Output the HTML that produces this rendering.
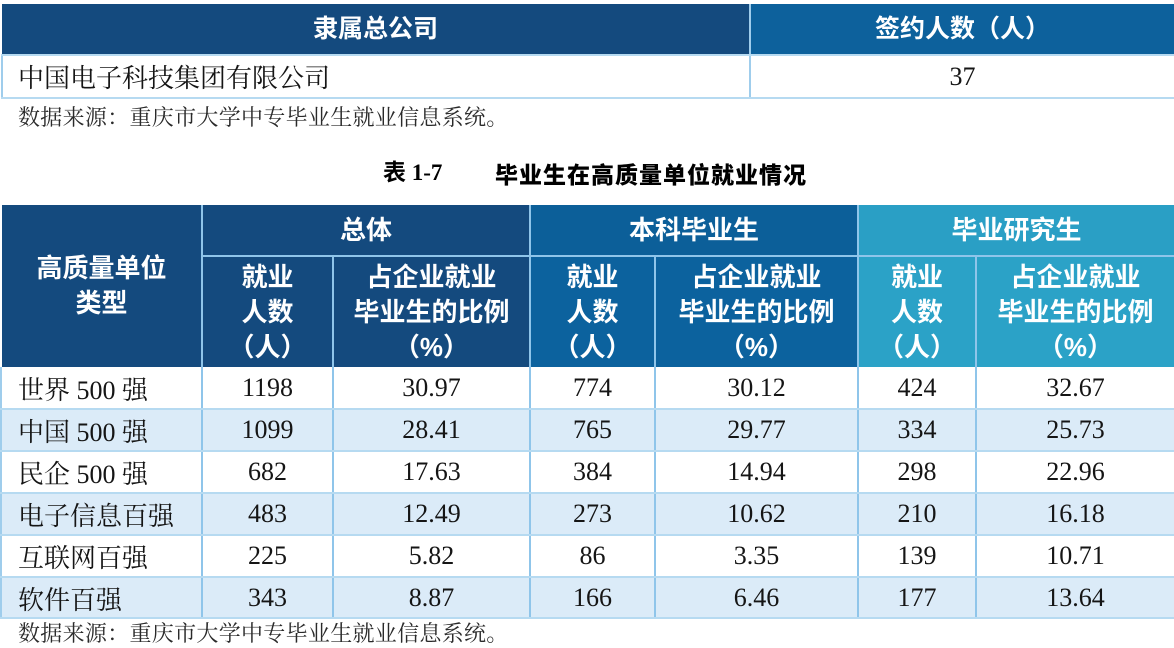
<!DOCTYPE html>
<html><head><meta charset="utf-8"><style>
*{margin:0;padding:0;box-sizing:border-box}
body{width:1174px;height:632px;overflow:hidden;background:#fff;position:relative;font-family:"Liberation Serif","Noto Serif CJK SC",serif;color:#151515}
.a{position:absolute}
.h{color:#fff;font-family:"Liberation Sans","Noto Sans CJK SC",sans-serif;font-weight:700;display:flex;align-items:center;justify-content:center;text-align:center;font-size:26px;line-height:35px}
.c{display:flex;align-items:center;justify-content:center;font-size:26px}
.l{display:flex;align-items:center;padding-left:16px;font-size:26px}
.vl{position:absolute;width:2px;background:#9fcdec}
.hl{position:absolute;height:2px;background:#b6daf1}
</style></head><body>

<!-- top table -->
<div class="a h" style="left:2px;top:4px;width:747px;height:50px;background:#144a7e;font-size:25px">隶属总公司</div>
<div class="a h" style="left:751px;top:4px;width:423px;height:50px;background:#0d619c;font-size:25px">签约人数（人）</div>
<div class="a l" style="left:2px;top:56px;width:747px;height:41px;">中国电子科技集团有限公司</div>
<div class="a c" style="left:751px;top:56px;width:423px;height:41px;">37</div>
<div class="vl" style="left:749px;top:4px;height:95px"></div>
<div class="vl" style="left:1px;top:54px;height:45px"></div>
<div class="hl" style="left:1px;top:54px;width:1173px"></div>
<div class="hl" style="left:1px;top:97px;width:1173px"></div>

<div class="a" style="left:18px;top:104px;font-size:22px;line-height:28px;color:#2a2a2a;letter-spacing:0.3px">数据来源：重庆市大学中专毕业生就业信息系统。</div>

<div class="a" style="left:383px;top:158px;font-size:23px;line-height:30px;font-weight:700;font-family:'Liberation Serif','Noto Sans CJK SC',sans-serif;color:#000;white-space:pre">表 1-7</div>
<div class="a" style="left:495px;top:158px;font-size:23px;line-height:30px;font-weight:900;font-family:'Noto Sans CJK SC',sans-serif;color:#000;letter-spacing:1px">毕业生在高质量单位就业情况</div>

<!-- main table header -->
<div class="a h" style="left:2px;top:205px;width:199px;height:162px;background:#144a7e">高质量单位<br>类型</div>
<div class="a h" style="left:203px;top:205px;width:326px;height:50px;background:#144a7e">总体</div>
<div class="a h" style="left:531px;top:205px;width:326px;height:50px;background:#0c5f99">本科毕业生</div>
<div class="a h" style="left:859px;top:205px;width:315px;height:50px;background:#2a9fc5">毕业研究生</div>

<div class="a h" style="left:203px;top:257px;width:129px;height:110px;background:#144a7e">就业<br>人数<br>（人）</div>
<div class="a h" style="left:334px;top:257px;width:195px;height:110px;background:#144a7e">占企业就业<br>毕业生的比例<br>（%）</div>
<div class="a h" style="left:531px;top:257px;width:123px;height:110px;background:#0c629e">就业<br>人数<br>（人）</div>
<div class="a h" style="left:656px;top:257px;width:201px;height:110px;background:#0c629e">占企业就业<br>毕业生的比例<br>（%）</div>
<div class="a h" style="left:859px;top:257px;width:116px;height:110px;background:#2ba2c7">就业<br>人数<br>（人）</div>
<div class="a h" style="left:977px;top:257px;width:197px;height:110px;background:#2ba2c7">占企业就业<br>毕业生的比例<br>（%）</div>

<!-- stripes -->
<div class="a" style="left:2px;top:409px;width:1172px;height:42px;background:#dbebf8"></div>
<div class="a" style="left:2px;top:493px;width:1172px;height:42px;background:#dbebf8"></div>
<div class="a" style="left:2px;top:577px;width:1172px;height:41px;background:#dbebf8"></div>

<!-- row text -->
<div class="a" style="left:0;top:367px;width:1174px">
<div style="position:relative;height:42px">
 <div class="a l" style="left:2px;width:199px;height:42px">世界 500 强</div>
 <div class="a c" style="left:203px;width:129px;height:42px">1198</div>
 <div class="a c" style="left:334px;width:195px;height:42px">30.97</div>
 <div class="a c" style="left:531px;width:123px;height:42px">774</div>
 <div class="a c" style="left:656px;width:201px;height:42px">30.12</div>
 <div class="a c" style="left:859px;width:116px;height:42px">424</div>
 <div class="a c" style="left:977px;width:197px;height:42px">32.67</div>
</div>
<div style="position:relative;height:42px">
 <div class="a l" style="left:2px;width:199px;height:42px">中国 500 强</div>
 <div class="a c" style="left:203px;width:129px;height:42px">1099</div>
 <div class="a c" style="left:334px;width:195px;height:42px">28.41</div>
 <div class="a c" style="left:531px;width:123px;height:42px">765</div>
 <div class="a c" style="left:656px;width:201px;height:42px">29.77</div>
 <div class="a c" style="left:859px;width:116px;height:42px">334</div>
 <div class="a c" style="left:977px;width:197px;height:42px">25.73</div>
</div>
<div style="position:relative;height:42px">
 <div class="a l" style="left:2px;width:199px;height:42px">民企 500 强</div>
 <div class="a c" style="left:203px;width:129px;height:42px">682</div>
 <div class="a c" style="left:334px;width:195px;height:42px">17.63</div>
 <div class="a c" style="left:531px;width:123px;height:42px">384</div>
 <div class="a c" style="left:656px;width:201px;height:42px">14.94</div>
 <div class="a c" style="left:859px;width:116px;height:42px">298</div>
 <div class="a c" style="left:977px;width:197px;height:42px">22.96</div>
</div>
<div style="position:relative;height:42px">
 <div class="a l" style="left:2px;width:199px;height:42px">电子信息百强</div>
 <div class="a c" style="left:203px;width:129px;height:42px">483</div>
 <div class="a c" style="left:334px;width:195px;height:42px">12.49</div>
 <div class="a c" style="left:531px;width:123px;height:42px">273</div>
 <div class="a c" style="left:656px;width:201px;height:42px">10.62</div>
 <div class="a c" style="left:859px;width:116px;height:42px">210</div>
 <div class="a c" style="left:977px;width:197px;height:42px">16.18</div>
</div>
<div style="position:relative;height:42px">
 <div class="a l" style="left:2px;width:199px;height:42px">互联网百强</div>
 <div class="a c" style="left:203px;width:129px;height:42px">225</div>
 <div class="a c" style="left:334px;width:195px;height:42px">5.82</div>
 <div class="a c" style="left:531px;width:123px;height:42px">86</div>
 <div class="a c" style="left:656px;width:201px;height:42px">3.35</div>
 <div class="a c" style="left:859px;width:116px;height:42px">139</div>
 <div class="a c" style="left:977px;width:197px;height:42px">10.71</div>
</div>
<div style="position:relative;height:42px">
 <div class="a l" style="left:2px;width:199px;height:42px">软件百强</div>
 <div class="a c" style="left:203px;width:129px;height:42px">343</div>
 <div class="a c" style="left:334px;width:195px;height:42px">8.87</div>
 <div class="a c" style="left:531px;width:123px;height:42px">166</div>
 <div class="a c" style="left:656px;width:201px;height:42px">6.46</div>
 <div class="a c" style="left:859px;width:116px;height:42px">177</div>
 <div class="a c" style="left:977px;width:197px;height:42px">13.64</div>
</div>
</div>

<!-- grid lines -->
<div class="vl" style="left:201px;top:205px;height:414px;background:#8fc5ea"></div>
<div class="vl" style="left:529px;top:205px;height:414px;background:#8fc5ea"></div>
<div class="vl" style="left:857px;top:205px;height:414px;background:#8fc5ea"></div>
<div class="vl" style="left:332px;top:255px;height:364px;background:#8fc5ea"></div>
<div class="vl" style="left:654px;top:255px;height:364px;background:#8fc5ea"></div>
<div class="vl" style="left:975px;top:255px;height:364px;background:#8fc5ea"></div>
<div class="vl" style="left:0px;top:367px;height:252px"></div>
<div class="hl" style="left:203px;top:255px;width:971px;background:#8fc5ea"></div>
<div class="hl" style="left:0;top:408px;width:1174px"></div>
<div class="hl" style="left:0;top:450px;width:1174px"></div>
<div class="hl" style="left:0;top:492px;width:1174px"></div>
<div class="hl" style="left:0;top:534px;width:1174px"></div>
<div class="hl" style="left:0;top:576px;width:1174px"></div>
<div class="hl" style="left:0;top:617px;width:1174px"></div>

<div class="a" style="left:18px;top:620px;font-size:22px;line-height:28px;color:#2a2a2a;letter-spacing:0.3px">数据来源：重庆市大学中专毕业生就业信息系统。</div>

</body></html>
